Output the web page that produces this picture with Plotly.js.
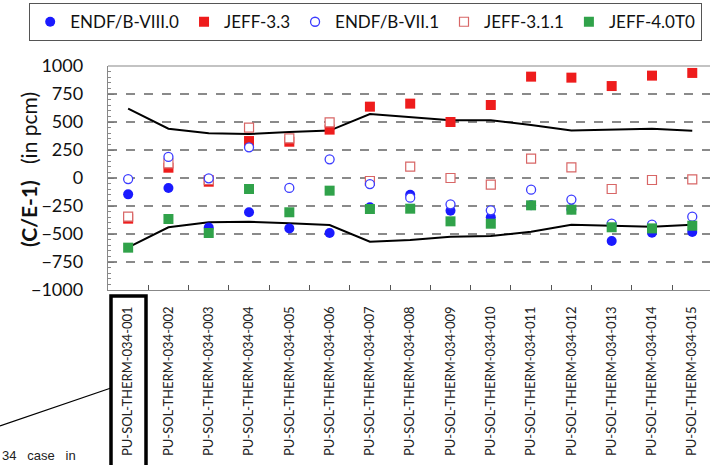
<!DOCTYPE html>
<html>
<head>
<meta charset="utf-8">
<script src="https://cdn.plot.ly/plotly-3.0.1.min.js"></script>
<style>
  html, body { margin: 0; padding: 0; background: #ffffff; }
  #chart { width: 710px; height: 465px; }
</style>
</head>
<body>
<div id="chart"></div>
<script>
// Benchmark cases (PU-SOL-THERM-034 series)
const cases = [
  'PU-SOL-THERM-034-001', 'PU-SOL-THERM-034-002', 'PU-SOL-THERM-034-003',
  'PU-SOL-THERM-034-004', 'PU-SOL-THERM-034-005', 'PU-SOL-THERM-034-006',
  'PU-SOL-THERM-034-007', 'PU-SOL-THERM-034-008', 'PU-SOL-THERM-034-009',
  'PU-SOL-THERM-034-010', 'PU-SOL-THERM-034-011', 'PU-SOL-THERM-034-012',
  'PU-SOL-THERM-034-013', 'PU-SOL-THERM-034-014', 'PU-SOL-THERM-034-015'
];

// C/E-1 in pcm for each nuclear data library
const endfb80  = [-146, -89, -443, -306, -450, -491, -262, -149, -292, -351, -244, -280, -562, -488, -482];
const jeff33   = [-363, 92, -33, 330, 324, 432, 637, 664, 500, 652, 905, 896, 821, 914, 938];
const endfb71  = [-10, 188, -3, 274, -89, 167, -54, -176, -235, -289, -104, -193, -408, -417, -345];
const jeff311  = [-345, 131, -18, 449, 354, 497, -27, 101, 0, -60, 173, 95, -98, -18, -12];
const jeff40t0 = [-622, -366, -491, -98, -306, -113, -277, -274, -387, -408, -244, -283, -440, -450, -426];

// Experimental uncertainty band (pcm)
const bandUpper = [620, 440, 399, 393, 410, 423, 571, 545, 516, 515, 474, 424, 433, 440, 422];
const bandLower = [-620, -440, -396, -390, -405, -420, -569, -554, -524, -518, -479, -417, -426, -435, -417];

// Axis ticks
const yTicks = [-1000, -750, -500, -250, 0, 250, 500, 750, 1000];

const FONT = 'Lato, "Open Sans", sans-serif';

const bandLine = { color: '#000000', width: 2 };

const traces = [
  { x: cases, y: bandUpper, type: 'scatter', mode: 'lines', line: bandLine, showlegend: false, hoverinfo: 'skip' },
  { x: cases, y: bandLower, type: 'scatter', mode: 'lines', line: bandLine, showlegend: false, hoverinfo: 'skip' },
  {
    x: cases, y: endfb80, name: 'ENDF/B-VIII.0', type: 'scatter', mode: 'markers', legendrank: 1,
    marker: { symbol: 'circle', size: 10, color: '#1a1aff', line: { width: 0 } }
  },
  {
    x: cases, y: jeff33, name: 'JEFF-3.3', type: 'scatter', mode: 'markers', legendrank: 2,
    marker: { symbol: 'square', size: 10, color: '#ee1c1c', line: { width: 0 } }
  },
  {
    x: cases, y: jeff311, name: 'JEFF-3.1.1', type: 'scatter', mode: 'markers', legendrank: 4,
    marker: { symbol: 'square', size: 9, color: '#ffffff', line: { width: 1.2, color: '#d86666' } }
  },
  {
    x: cases, y: endfb71, name: 'ENDF/B-VII.1', type: 'scatter', mode: 'markers', legendrank: 3,
    marker: { symbol: 'circle', size: 9, color: '#ffffff', line: { width: 1.3, color: '#3c3cff' } }
  },
  {
    x: cases, y: jeff40t0, name: 'JEFF-4.0T0', type: 'scatter', mode: 'markers', legendrank: 5,
    marker: { symbol: 'square', size: 10, color: '#30a24a', line: { width: 0 } }
  }
];

const layout = {
  width: 710,
  height: 465,
  margin: { l: 108, r: 0, t: 66, b: 175, pad: 0 },
  paper_bgcolor: '#ffffff',
  plot_bgcolor: '#ffffff',
  font: { family: FONT, color: '#111111' },
  showlegend: true,
  legend: {
    orientation: 'h',
    xref: 'paper', yref: 'paper',
    x: -79 / 602, y: 1 + 63 / 224,
    xanchor: 'left', yanchor: 'top',
    bordercolor: '#555555', borderwidth: 1.2,
    bgcolor: '#ffffff',
    font: { family: FONT, size: 17, color: '#111111' },
    traceorder: 'normal',
    itemsizing: 'trace'
  },
  xaxis: {
    type: 'category',
    categoryorder: 'array',
    categoryarray: cases,
    range: [-0.5, 14.44],
    showgrid: false,
    zeroline: false,
    showline: true,
    linecolor: '#888888',
    linewidth: 1.2,
    ticks: 'inside',
    tickson: 'boundaries',
    ticklen: 5,
    tickcolor: '#555555',
    tickangle: -90,
    ticklabelstandoff: 10,
    tickfont: { family: FONT, size: 13, color: '#222222' }
  },
  yaxis: {
    range: [-1000, 1000],
    tickvals: yTicks,
    showgrid: true,
    gridcolor: '#8a8a8a',
    gridwidth: 1.2,
    griddash: 'dash',
    zeroline: false,
    showline: true,
    linecolor: '#888888',
    linewidth: 1.2,
    ticks: 'inside',
    ticklen: 6,
    tickcolor: '#777777',
    minor: { dtick: 50, tick0: 0, ticks: 'inside', ticklen: 3, tickcolor: '#888888', showgrid: false },
    ticklabelstandoff: 20,
    tickfont: { family: FONT, size: 18, color: '#111111' }
  },
  shapes: [
    // top frame line of the plotting area
    { type: 'line', xref: 'paper', yref: 'paper', x0: 0, x1: 1, y0: 1, y1: 1,
      line: { color: '#888888', width: 1.2 } },
    // highlight box around the first case label
    { type: 'rect', xref: 'paper', yref: 'paper',
      x0: 3 / 602, x1: 38 / 602, y0: -185 / 224, y1: -6 / 224,
      line: { color: '#000000', width: 3.5 }, fillcolor: 'rgba(0,0,0,0)' },
    // leader line pointing to the box
    { type: 'line', xref: 'paper', yref: 'paper',
      x0: -108 / 602, y0: -136 / 224, x1: 3 / 602, y1: -98 / 224,
      line: { color: '#000000', width: 1.3 } }
  ],
  annotations: [
    // y-axis title
    { xref: 'paper', yref: 'paper', x: -80 / 602, y: 120 / 224,
      xanchor: 'center', yanchor: 'middle', textangle: -90, showarrow: false,
      text: '<b>(C/E-1)</b>&nbsp;&nbsp;&nbsp;(in pcm)',
      font: { family: FONT, size: 21, color: '#111111' } },
    { xref: 'paper', yref: 'paper', x: -108 / 602, y: -165 / 224,
      xanchor: 'left', yanchor: 'middle', showarrow: false,
      text: '34&nbsp;&nbsp;&nbsp;case&nbsp;&nbsp;&nbsp;in',
      font: { family: '"Liberation Sans", Arial, sans-serif', size: 13, color: '#222222' } }
  ]
};

Plotly.newPlot('chart', traces, layout, { displayModeBar: false, staticPlot: true });
</script>
</body>
</html>
